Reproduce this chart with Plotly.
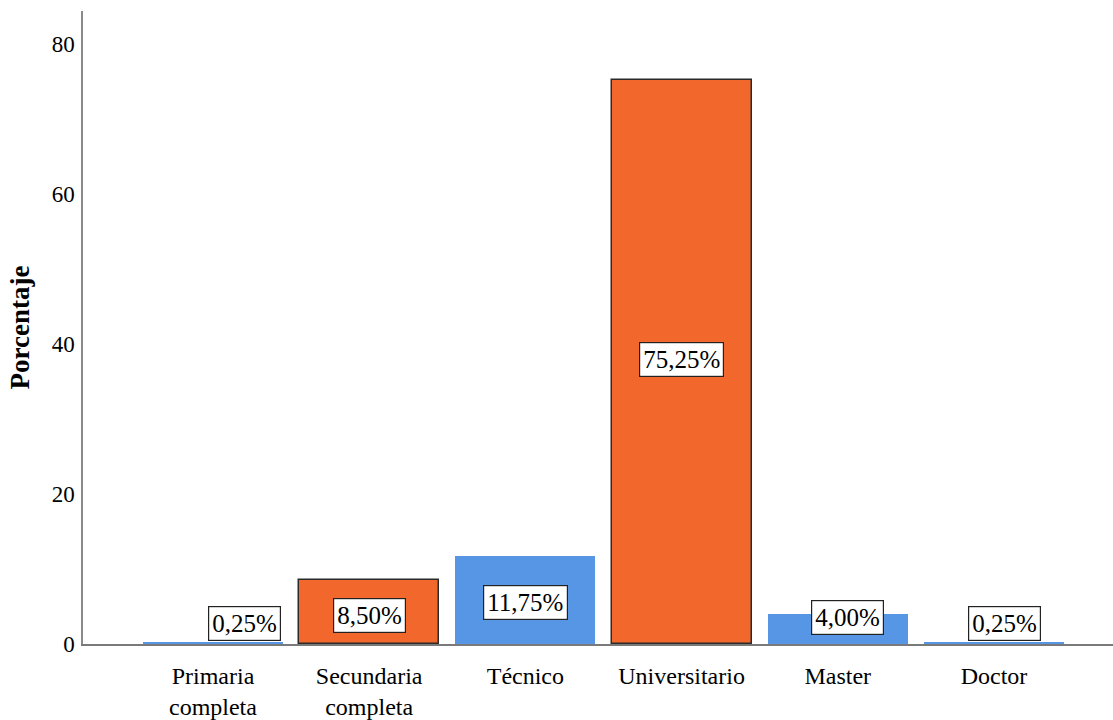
import plotly.graph_objects as go

categories = ["Primaria<br>completa", "Secundaria<br>completa", "Técnico",
              "Universitario", "Master", "Doctor"]
percentages = [0.25, 8.50, 11.75, 75.25, 4.00, 0.25]
y_ticks = [0, 20, 40, 60, 80]

BLUE = "#5796e5"
ORANGE = "#f2682c"
bar_colors = [BLUE, ORANGE, BLUE, ORANGE, BLUE, BLUE]
line_widths = [0 if c == BLUE else 1.5 for c in bar_colors]

# label offsets (pixels) relative to the bar's mid-height
label_dx = [32, 0, 0, 0, 10, 11]
label_dy = [20, -3, -3, 2, 12, 20]

FONT = "Liberation Serif, Times New Roman, serif"

fig = go.Figure()
fig.add_trace(go.Bar(
    x=list(range(len(categories))),
    y=percentages,
    width=0.896,
    marker=dict(color=bar_colors,
                line=dict(color="#2b2b2b", width=line_widths)),
    hoverinfo="skip",
))

for i, v in enumerate(percentages):
    fig.add_annotation(
        x=i, y=v / 2, xref="x", yref="y",
        text=f"{v:.2f}".replace(".", ",") + "%",
        showarrow=False,
        xshift=label_dx[i], yshift=label_dy[i],
        font=dict(family=FONT, size=25, color="black"),
        bgcolor="white", bordercolor="#222222", borderwidth=1.2, borderpad=3,
    )

fig.update_layout(
    width=1113, height=720,
    margin=dict(l=83, r=0, t=11, b=74),
    plot_bgcolor="white", paper_bgcolor="white",
    showlegend=False,
    font=dict(family=FONT, color="black"),
    bargap=0,
)
fig.update_xaxes(
    range=[-0.832, 5.762],
    tickmode="array", tickvals=list(range(len(categories))), ticktext=categories,
    tickfont=dict(family=FONT, size=24, color="black"),
    showline=True, linecolor="#7a7a7a", linewidth=1.5,
    showgrid=False, zeroline=False, ticks="", ticklabelstandoff=9,
)
fig.update_yaxes(
    range=[0, 84.4],
    tickmode="array", tickvals=y_ticks,
    tickfont=dict(family=FONT, size=23, color="black"),
    showline=True, linecolor="#8a8a8a", linewidth=1.5,
    showgrid=False, zeroline=False, ticks="", ticklabelstandoff=2,
    title=dict(text="<b>Porcentaje</b>", font=dict(family=FONT, size=27, color="black"),
               standoff=14),
)

fig.write_html("out.html",
               config={"displayModeBar": False},
               post_script="document.body.style.margin='0';document.body.style.overflow='hidden';")
